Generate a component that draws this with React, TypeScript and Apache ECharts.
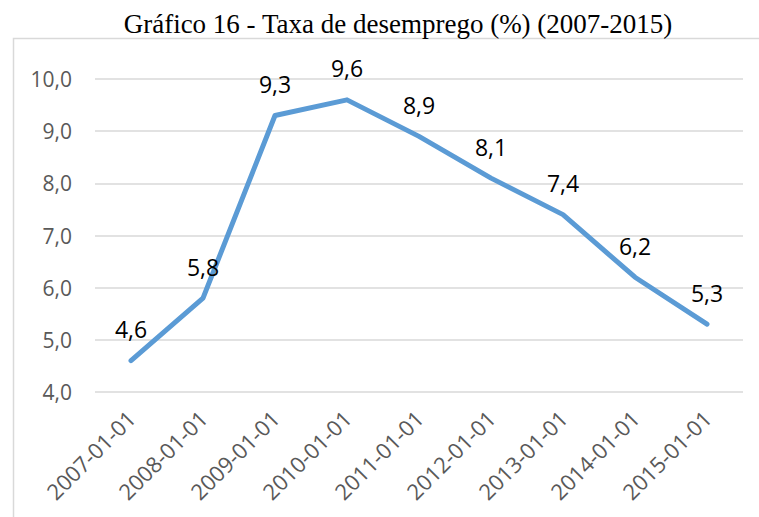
import React, { useEffect, useRef } from "react";
import * as echarts from "echarts";

const categories = ["2007-01-01", "2008-01-01", "2009-01-01", "2010-01-01", "2011-01-01", "2012-01-01", "2013-01-01", "2014-01-01", "2015-01-01"];
const unemployment = [4.6, 5.8, 9.3, 9.6, 8.9, 8.1, 7.4, 6.2, 5.3];
const titleText = "Gráfico 16 - Taxa de desemprego (%) (2007-2015)";

const fmt = (v: number) => v.toFixed(1).replace(".", ",");

export default function App() {
  const ref = useRef<HTMLDivElement>(null);
  useEffect(() => {
    document.body.style.margin = "0";
    const chart = echarts.init(ref.current!, null, { renderer: "svg" });
    chart.setOption({
      animation: false,
      backgroundColor: "#ffffff",
      title: {
        text: titleText,
        left: 393,
        top: 5,
        textAlign: "center",
        textStyle: { fontFamily: "Liberation Serif", fontSize: 27, fontWeight: "normal", color: "#000000" },
      },
      graphic: [
        {
          type: "rect",
          shape: { x: 13.5, y: 38.5, width: 800, height: 600 },
          style: { fill: "none", stroke: "#D9D9D9", lineWidth: 1.5 },
          silent: true,
        },
      ],
      grid: { left: 95, right: 16, top: 79, bottom: 125 },
      xAxis: {
        type: "category",
        data: categories,
        boundaryGap: true,
        axisLine: { show: false },
        axisTick: { show: false },
        axisLabel: {
          rotate: 45,
          margin: 22,
          fontFamily: "Open Sans",
          fontSize: 22,
          color: "#595959",
          interval: 0,
        },
      },
      yAxis: {
        type: "value",
        min: 4,
        max: 10,
        interval: 1,
        axisLine: { show: false },
        axisTick: { show: false },
        splitLine: { lineStyle: { color: "#D9D9D9", width: 1.5 } },
        axisLabel: {
          formatter: (v: number) => fmt(v),
          margin: 23,
          fontFamily: "Open Sans",
          fontSize: 21,
          color: "#595959",
        },
      },
      series: [
        {
          type: "line",
          data: unemployment,
          symbol: "circle",
          symbolSize: 0,
          showSymbol: true,
          lineStyle: { color: "#5B9BD5", width: 5, cap: "round", join: "round" },
          itemStyle: { color: "#5B9BD5" },
          label: {
            show: true,
            position: "top",
            distance: 20,
            formatter: (p: any) => fmt(p.value),
            fontFamily: "Open Sans",
            fontSize: 23,
            color: "#000000",
          },
        },
      ],
    });
    return () => chart.dispose();
  }, []);
  return <div ref={ref} style={{ width: 759, height: 517 }} />;
}
